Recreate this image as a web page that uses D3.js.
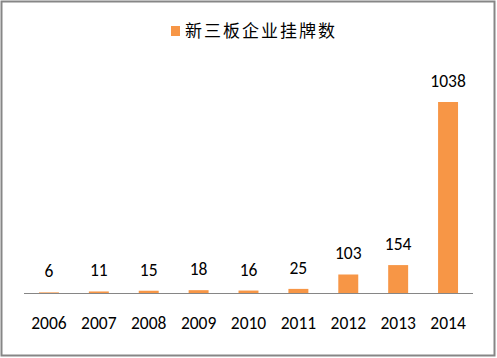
<!DOCTYPE html>
<html><head><meta charset="utf-8">
<script src="https://cdn.jsdelivr.net/npm/d3@7"></script>
<style>body{margin:0;background:#fff}</style>
</head><body>
<script>
const categories = ["2006","2007","2008","2009","2010","2011","2012","2013","2014"];
const values = [6,11,15,18,16,25,103,154,1038];
const seriesName = "新三板企业挂牌数";

const W = 497, H = 358;
const svg = d3.select("body").append("svg").attr("width", W).attr("height", H);
svg.append("rect").attr("x",1.5).attr("y",1.5).attr("width",493).attr("height",354)
  .attr("fill","#fff").attr("stroke","#868686").attr("stroke-width",2);

const x = d3.scaleBand().domain(categories).range([24,473]).paddingInner(0.6).paddingOuter(0.3);
const y = d3.scaleLinear().domain([0,1038]).range([293.5,102]);
const color = "#F79646";
const numFont = "Carlito,'Liberation Sans',Arial,sans-serif";

svg.selectAll("rect.bar").data(values).join("rect").attr("class","bar")
  .attr("x",(d,i)=>x(categories[i])).attr("width",x.bandwidth())
  .attr("y",d=>y(d)).attr("height",d=>y(0)-y(d)).attr("fill",color);

svg.append("line").attr("x1",24).attr("x2",473).attr("y1",293.5).attr("y2",293.5)
  .attr("stroke","#868686").attr("stroke-width",1);

svg.selectAll("text.val").data(values).join("text").attr("class","val")
  .attr("x",(d,i)=>x(categories[i])+x.bandwidth()/2).attr("y",d=>y(d)-15)
  .attr("text-anchor","middle").attr("font-family",numFont).attr("font-size",17.5)
  .attr("fill","#000").text(d=>d);

const xAxis = svg.append("g").attr("transform","translate(0,293.5)")
  .call(d3.axisBottom(x).tickSize(0).tickPadding(0));
xAxis.select(".domain").remove();
xAxis.selectAll("text").attr("y",35.5).attr("dy",0).attr("font-family",numFont)
  .attr("font-size",17.5).attr("fill","#000");

const lg = svg.append("g");
lg.append("rect").attr("x",171).attr("y",26).attr("width",9).attr("height",10).attr("fill",color);
lg.append("text").attr("x",185).attr("y",37).attr("font-family","'Noto Sans CJK SC',sans-serif")
  .attr("font-size",17).attr("textLength",150).attr("lengthAdjust","spacing")
  .attr("fill","#000").text(seriesName);
</script>
</body></html>
